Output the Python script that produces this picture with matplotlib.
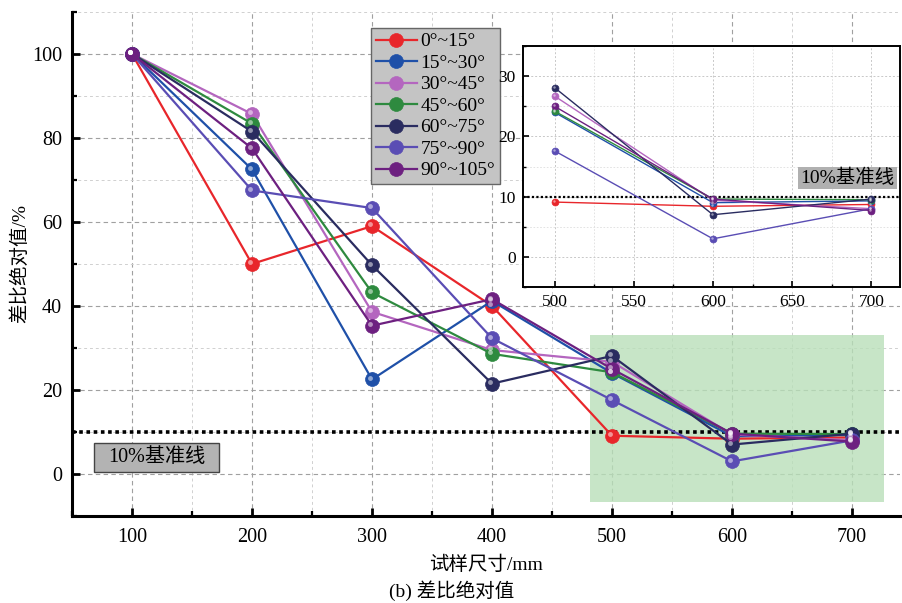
import matplotlib
matplotlib.use("Agg")
import matplotlib.pyplot as plt
from matplotlib.patches import Rectangle
from matplotlib.ticker import MultipleLocator
from matplotlib.transforms import offset_copy

plt.rcParams['font.family'] = ['Liberation Serif', 'Noto Sans CJK SC']
plt.rcParams['mathtext.fontset'] = 'stix'

sizes = [100, 200, 300, 400, 500, 600, 700]
labels = ['0°~15°', '15°~30°', '30°~45°', '45°~60°', '60°~75°', '75°~90°', '90°~105°']
colors = ['#e8262b', '#1f50a8', '#b466bf', '#2e8a3f', '#2a2c60', '#5a4db4', '#6d2080']

s_0_15 = [100, 50.0, 59.0, 40.0, 9.1, 8.4, 8.7]
s_15_30 = [100, 72.5, 22.5, 41.2, 24.0, 9.0, 9.3]
s_30_45 = [100, 85.7, 38.6, 29.5, 26.7, 9.4, 8.0]
s_45_60 = [100, 83.4, 43.2, 28.6, 24.2, 9.6, 9.5]
s_60_75 = [100, 81.5, 49.7, 21.5, 28.1, 7.0, 9.6]
s_75_90 = [100, 67.5, 63.3, 32.3, 17.6, 3.0, 8.0]
s_90_105 = [100, 77.5, 35.3, 41.6, 25.0, 9.6, 7.7]
series = [s_0_15, s_15_30, s_30_45, s_45_60, s_60_75, s_75_90, s_90_105]

baseline = 10
baseline_text = '10%基准线'
zoom_x = [500, 600, 700]

fig = plt.figure(figsize=(9.03, 6.03), dpi=100)
ax = fig.add_axes([0.0797, 0.1443, 0.917, 0.836])


def sphere(axis, x, y, color, ms, lw, label=None, z=3):
    axis.plot(x, y, '-', color=color, lw=lw, marker='o', ms=ms,
              mfc=color, mec=color, mew=0.5, label=label, zorder=z)
    hl = offset_copy(axis.transData, fig=fig, x=-ms * 0.12, y=ms * 0.12, units='points')
    axis.plot(x, y, 'o', ms=ms * 0.35, color='white', alpha=0.5, mew=0,
              transform=hl, zorder=z + 0.1)


for vals, c, lab in zip(series, colors, labels):
    sphere(ax, sizes, vals, c, 10, 1.6, lab)

ax.axhline(baseline, color='black', lw=2.6, ls=(0, (1, 1)), zorder=2.5)
ax.add_patch(Rectangle((482, -6.7), 245, 39.8, facecolor='#b9dfb9', alpha=0.8,
                       edgecolor='none', zorder=1))

ax.set_xlim(50, 740)
ax.set_ylim(-10, 110)
ax.xaxis.set_major_locator(MultipleLocator(100))
ax.xaxis.set_minor_locator(MultipleLocator(50))
ax.yaxis.set_major_locator(MultipleLocator(20))
ax.yaxis.set_minor_locator(MultipleLocator(10))
ax.grid(which='major', ls=(0, (4, 3)), color='#a0a0a0', lw=0.8)
ax.grid(which='minor', ls=(0, (3, 3)), color='#d0d0d0', lw=0.7)
ax.set_axisbelow(True)
for s in ['top', 'right']:
    ax.spines[s].set_visible(False)
for s in ['left', 'bottom']:
    ax.spines[s].set_linewidth(2.2)
ax.tick_params(which='major', direction='in', length=6, width=2, labelsize=14.5, pad=7)
ax.tick_params(which='minor', direction='in', length=3.5, width=1.6)
ax.tick_params(axis='x', pad=9)
ax.set_xlabel('试样尺寸/mm', fontsize=14, labelpad=6)
ax.set_ylabel('差比绝对值/%', fontsize=14, labelpad=2)
fig.text(0.5, 0.004, '(b) 差比绝对值', ha='center', va='bottom', fontsize=14)

# reference-line tag in the lower left corner
ax.add_patch(Rectangle((68.3, 0.5), 104.2, 6.9, facecolor='#b3b3b3',
                       edgecolor='#444444', lw=1, zorder=5))
ax.text(120.5, 4.0, baseline_text, fontsize=14.5, ha='center', va='center', zorder=6)

leg = ax.legend(loc='upper left', bbox_to_anchor=(0.361, 0.968), fontsize=14,
                frameon=True, fancybox=False, handlelength=2.1, handletextpad=0.2,
                labelspacing=0.2, borderpad=0.25, borderaxespad=0)
leg.get_frame().set_facecolor('#c4c4c4')
leg.get_frame().set_edgecolor('#666666')
leg.get_frame().set_alpha(1)
leg.set_zorder(6)

# magnified view of the last three sizes
ins = fig.add_axes([0.579, 0.524, 0.4175, 0.3997])
ins.set_zorder(7)
ins.set_facecolor('white')
for vals, c in zip(series, colors):
    sphere(ins, zoom_x, vals[-3:], c, 5, 1.0)
ins.axhline(baseline, color='black', lw=1.6, ls=(0, (1, 1)), zorder=2.5)
ins.set_xlim(480, 718)
ins.set_ylim(-5, 35)
ins.xaxis.set_major_locator(MultipleLocator(50))
ins.xaxis.set_minor_locator(MultipleLocator(25))
ins.yaxis.set_major_locator(MultipleLocator(10))
ins.yaxis.set_minor_locator(MultipleLocator(5))
ins.grid(which='major', ls=(0, (2, 2)), color='#c8c8c8', lw=0.7)
ins.grid(which='minor', ls=(0, (2, 2)), color='#dedede', lw=0.6)
ins.set_axisbelow(True)
for s in ins.spines.values():
    s.set_linewidth(1.4)
ins.tick_params(which='major', direction='in', length=4, width=1.2, labelsize=12.5,
                top=False, right=False, pad=5)
ins.tick_params(which='minor', direction='in', length=2.5, width=1.0)
ins.add_patch(Rectangle((0.73, 0.407), 0.263, 0.091, transform=ins.transAxes,
                        facecolor='#b0b0b0', edgecolor='none', zorder=5))
ins.text(0.8615, 0.452, baseline_text, transform=ins.transAxes, fontsize=14,
         ha='center', va='center', zorder=6)

fig.savefig('out.png', dpi=100)
